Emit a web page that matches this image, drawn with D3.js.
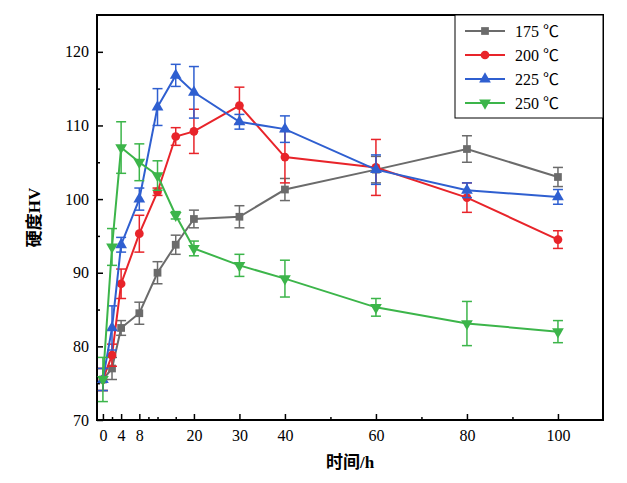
<!DOCTYPE html>
<html><head><meta charset="utf-8">
<script src="https://cdn.jsdelivr.net/npm/d3@7"></script>
<style>body{margin:0;background:#fff}text{font-family:"Liberation Serif","Noto Sans CJK SC",serif}</style>
</head><body><svg id="c" width="627" height="483"></svg>
<script>
var times = [0, 2, 4, 8, 12, 16, 20, 30, 40, 60, 80, 100];
var hv175 = [75.5, 77, 82.5, 84.5, 90, 93.8, 97.3, 97.6, 101.3, 104, 106.8, 103];
var err175 = [1.5, 1.5, 1, 1.5, 1.5, 1.3, 1.2, 1.5, 1.5, 1.8, 1.8, 1.3];
var hv200 = [75.5, 78.8, 88.5, 95.3, 101, 108.5, 109.2, 112.7, 105.7, 104.3, 100.2, 94.5];
var err200 = [1.5, 1.5, 2, 2.5, 0.5, 1.2, 3, 2.5, 3.5, 3.8, 2, 1.2];
var hv225 = [75.5, 82.5, 93.8, 100, 112.5, 116.8, 114.5, 110.5, 109.5, 104, 101.2, 100.3];
var err225 = [1.5, 3, 1, 1.5, 2.5, 1.5, 3.5, 1, 1.8, 2, 1, 1];
var hv250 = [75.5, 93.5, 107, 105, 103.2, 97.8, 93.3, 91, 89.2, 85.3, 83.1, 82];
var err250 = [3, 2.5, 3.5, 2.5, 2, 0.5, 1, 1.5, 2.5, 1.2, 3, 1.5];
var xTicks = [0, 4, 8, 20, 30, 40, 60, 80, 100];
var yTicks = [70, 80, 90, 100, 110, 120];
var seriesNames = ["175 ℃", "200 ℃", "225 ℃", "250 ℃"];
var colors = ["#6b6b6b", "#e8242a", "#2f5fd0", "#3cb54a"];
var shapes = [d3.symbolSquare, d3.symbolCircle, d3.symbolTriangle, "down"];

var svg = d3.select("#c");
var L = 97, R = 603, T = 15, B = 420;
var x = d3.scaleLinear().domain([-1.3, 109.9]).range([L, R]);
var y = d3.scaleLinear().domain([70, 125]).range([B, T]);

svg.append("g").attr("transform", `translate(0,${B})`)
  .call(d3.axisBottom(x).tickValues(xTicks).tickSizeInner(-6).tickSizeOuter(0).tickPadding(10))
  .call(g => g.selectAll("text").attr("font-size", 16).attr("fill", "#000"));
svg.append("g").attr("transform", `translate(${L},0)`)
  .call(d3.axisLeft(y).tickValues(yTicks).tickSizeInner(-6).tickSizeOuter(0).tickPadding(8))
  .call(g => g.selectAll("text").attr("font-size", 16).attr("fill", "#000"));
svg.append("g").attr("transform", `translate(${L},0)`)
  .call(d3.axisLeft(y).tickValues([75, 85, 95, 105, 115]).tickSize(-3).tickFormat(""));
svg.append("g").attr("transform", `translate(0,${B})`)
  .call(d3.axisBottom(x).tickValues([2, 12, 16, 10, 50, 70, 90]).tickSize(-3).tickFormat(""));
svg.selectAll(".domain").remove();
svg.append("rect").attr("x", L).attr("y", T).attr("width", R - L).attr("height", B - T)
  .attr("fill", "none").attr("stroke", "#000").attr("stroke-width", 2);
svg.selectAll(".tick line").attr("stroke", "#000").attr("stroke-width", 1.5);

svg.append("text").attr("x", (L + R) / 2).attr("y", 468).attr("text-anchor", "middle")
  .attr("font-size", 17).attr("font-weight", "bold").text("时间/h");
svg.append("text").attr("transform", `translate(40,${(T + B) / 2}) rotate(-90)`).attr("text-anchor", "middle")
  .attr("font-size", 17).attr("font-weight", "bold").text("硬度HV");

function sym(s, size) {
  if (s === "down") return "translate(0,0) rotate(180)";
  return null;
}
var all = [[hv175, err175], [hv200, err200], [hv225, err225], [hv250, err250]];
all.forEach(function (sd, i) {
  var vals = sd[0], errs = sd[1], c = colors[i];
  var g = svg.append("g");
  var eb = g.selectAll(".e").data(times).enter().append("g");
  eb.append("line").attr("x1", t => x(t)).attr("x2", t => x(t))
    .attr("y1", (t, j) => y(vals[j] - errs[j])).attr("y2", (t, j) => y(vals[j] + errs[j]))
    .attr("stroke", c).attr("stroke-width", 1.5);
  [-1, 1].forEach(function (k) {
    eb.append("line").attr("x1", t => x(t) - 5).attr("x2", t => x(t) + 5)
      .attr("y1", (t, j) => y(vals[j] + k * errs[j])).attr("y2", (t, j) => y(vals[j] + k * errs[j]))
      .attr("stroke", c).attr("stroke-width", 1.5);
  });
  g.append("path").datum(times).attr("fill", "none").attr("stroke", c).attr("stroke-width", 2)
    .attr("d", d3.line().x(t => x(t)).y((t, j) => y(vals[j])));
  var st = shapes[i] === "down" ? d3.symbolTriangle : shapes[i];
  g.selectAll(".m").data(times).enter().append("path")
    .attr("d", d3.symbol().type(st).size(60))
    .attr("transform", (t, j) => `translate(${x(t)},${y(vals[j])})` + (shapes[i] === "down" ? " rotate(180)" : ""))
    .attr("fill", c);
});

var lg = svg.append("g").attr("transform", "translate(455,15)");
lg.append("rect").attr("width", 148).attr("height", 103).attr("fill", "#fff").attr("stroke", "#000");
seriesNames.forEach(function (n, i) {
  var yy = 16 + i * 24;
  lg.append("line").attr("x1", 10).attr("x2", 50).attr("y1", yy).attr("y2", yy).attr("stroke", colors[i]).attr("stroke-width", 2);
  var st = shapes[i] === "down" ? d3.symbolTriangle : shapes[i];
  lg.append("path").attr("d", d3.symbol().type(st).size(60))
    .attr("transform", `translate(30,${yy})` + (shapes[i] === "down" ? " rotate(180)" : "")).attr("fill", colors[i]);
  lg.append("text").attr("x", 60).attr("y", yy + 6).attr("font-size", 16).text(n);
});
</script></body></html>
